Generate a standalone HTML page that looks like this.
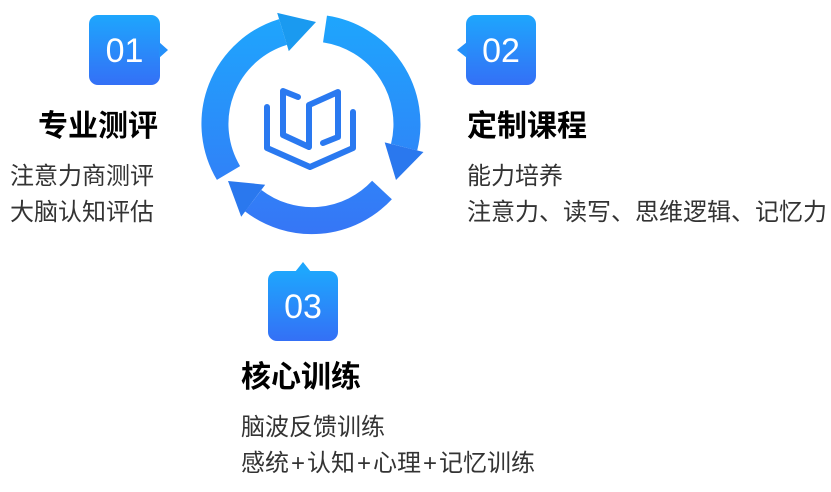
<!DOCTYPE html>
<html><head><meta charset="utf-8"><style>
body{margin:0;width:831px;height:492px;background:#fff;position:relative;overflow:hidden;font-family:"Liberation Sans","Noto Sans CJK SC",sans-serif}
.t{position:absolute;font-size:30px;font-weight:bold;color:#000;line-height:32px;white-space:nowrap}
.b{position:absolute;font-size:24px;color:#333;line-height:28px;white-space:nowrap}
.p{padding:0 2px}
</style></head><body>
<svg width="831" height="492" style="position:absolute;left:0;top:0">
<defs>
<linearGradient id="gr" gradientUnits="userSpaceOnUse" x1="0" y1="15" x2="0" y2="233"><stop offset="0" stop-color="#1ea6fd"/><stop offset="1" stop-color="#3676f6"/></linearGradient>
<linearGradient id="gb" x1="0" y1="0" x2="0" y2="1"><stop offset="0" stop-color="#1ea6fd"/><stop offset="1" stop-color="#3470f6"/></linearGradient>
</defs>
<g fill="none" stroke="url(#gr)" stroke-width="27">
<path d="M228.5,173 A96,96 0 0 1 283,32"/>
<path d="M325,29 A96,96 0 0 1 404.1,147.2"/>
<path d="M382,190 A96,96 0 0 1 253.2,200.7"/>
</g>
<polygon points="277.2,12.9 288.8,51.1 316,22" fill="#1a9af0"/>
<polygon points="384.7,142.4 423.5,152 396,180" fill="#2a78ee"/>
<polygon points="241.2,216.7 265.2,184.7 228,181" fill="#2a78ee"/>
<g fill="none" stroke="#2a79f0" stroke-width="6" stroke-linecap="round" stroke-linejoin="round">
<path d="M267,107 L267,148 L310,167 L353,148 L353,112"/>
<path d="M298,97 L283,91 L283,135 L309,147 L309,105 L338,92 L338,137 L323,143"/>
</g>
<rect x="89" y="15" width="71" height="70" rx="9" fill="url(#gb)"/>
<polygon points="159,42 168,50 159,58" fill="#2590fa"/>
<rect x="466" y="15" width="70" height="70" rx="9" fill="url(#gb)"/>
<polygon points="467,42 457,50 467,58" fill="#2590fa"/>
<rect x="268" y="271" width="70" height="70" rx="9" fill="url(#gb)"/>
<polygon points="295,272 303,262 311,272" fill="#1ea6fd"/>
<g fill="#fff" font-family="Liberation Sans, sans-serif" font-size="34" text-anchor="middle">
<text x="124.5" y="62">01</text>
<text x="501" y="62">02</text>
<text x="303" y="318">03</text>
</g>
</svg>
<div class="t" style="left:38px;top:111px">专业测评</div>
<div class="b" style="left:10px;top:163px">注意力商测评</div>
<div class="b" style="left:10px;top:199px">大脑认知评估</div>
<div class="t" style="left:467px;top:111px">定制课程</div>
<div class="b" style="left:467px;top:163px">能力培养</div>
<div class="b" style="left:467px;top:199px">注意力、读写、思维逻辑、记忆力</div>
<div class="t" style="left:241px;top:362px">核心训练</div>
<div class="b" style="left:241px;top:414px">脑波反馈训练</div>
<div class="b" style="left:241px;top:450px">感统<span class="p">+</span>认知<span class="p">+</span>心理<span class="p">+</span>记忆训练</div>
</body></html>
